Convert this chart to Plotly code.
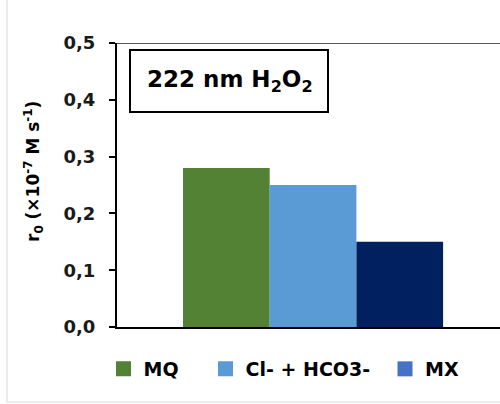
import plotly.graph_objects as go

# Initial rate r0 under 222 nm UV / H2O2 in three water matrices
categories = ["222 nm"]
series_names = ["MQ", "Cl- + HCO3-", "MX"]
series_values = [[0.28], [0.25], [0.15]]
bar_colors = ["#548235", "#5B9BD5", "#002060"]
legend_colors = ["#548235", "#5B9BD5", "#4472C4"]
y_ticks = [0.0, 0.1, 0.2, 0.3, 0.4, 0.5]

W, H = 500, 404
L_M, R_M, T_M, B_M = 117, 0, 43, 77
plot_w = W - L_M - R_M
plot_h = H - T_M - B_M


def px_x(px):
    return (px - L_M) / plot_w


def px_y(py):
    return (H - B_M - py) / plot_h


fig = go.Figure()

for name, vals, col in zip(series_names, series_values, bar_colors):
    fig.add_trace(go.Bar(x=categories, y=vals, name=name, marker=dict(color=col, line=dict(width=0)),
                         showlegend=False))

# one legend per entry so each swatch sits where it belongs in the row
legend_ids = ["legend", "legend2", "legend3"]
legend_left = [103.5, 205.5, 385.0]
for name, col, lid in zip(series_names, legend_colors, legend_ids):
    fig.add_trace(go.Scatter(x=[None], y=[None], mode="markers", name=name, legend=lid,
                             marker=dict(symbol="square", size=15, color=col)))

legend_font = dict(family="DejaVu Sans", size=19, color="#000000", weight="bold")
leg_layout = {}
for lid, lx in zip(legend_ids, legend_left):
    leg_layout[lid] = dict(x=lx / W, y=1 - 369 / H, xref="container", yref="container",
                           xanchor="left", yanchor="middle", orientation="h",
                           font=legend_font, bgcolor="rgba(0,0,0,0)", borderwidth=0)

fig.update_layout(
    width=W, height=H,
    margin=dict(l=L_M, r=R_M, t=T_M, b=B_M, pad=0),
    paper_bgcolor="#ffffff", plot_bgcolor="#ffffff",
    barmode="group", bargap=0.2, bargroupgap=0,
    xaxis=dict(range=[-0.603, 0.575], showticklabels=False, ticks="", showgrid=False,
               zeroline=False, showline=True, linecolor="#000000", linewidth=2),
    yaxis=dict(range=[0, 0.5], tickvals=y_ticks, tickformat=".1f", ticks="outside",
               ticklen=6, tickwidth=2, tickcolor="#000000", showgrid=False, zeroline=False,
               showline=True, linecolor="#000000", linewidth=2, ticklabelstandoff=10,
               tickfont=dict(family="DejaVu Sans", size=18, color="#1a1a1a", weight="bold")),
    separators=",.",
    **leg_layout,
)

shapes = [
    # line along the top of the plot area at 0.5
    dict(type="line", xref="paper", yref="y", x0=0, x1=1, y0=0.5, y1=0.5,
         line=dict(color="#222222", width=1.5)),
    # frame around the chart label
    dict(type="rect", xref="paper", yref="paper", x0=px_x(130), x1=px_x(328),
         y0=px_y(112), y1=px_y(50), line=dict(color="#000000", width=2),
         fillcolor="rgba(0,0,0,0)"),
    # light outer border of the chart
    dict(type="rect", xref="paper", yref="paper", x0=px_x(7), x1=px_x(520),
         y0=px_y(402), y1=px_y(-20), line=dict(color="#d9d9d9", width=1),
         fillcolor="rgba(0,0,0,0)", layer="below"),
]
fig.update_layout(shapes=shapes)

fig.add_annotation(x=px_x(230), y=px_y(81), xref="paper", yref="paper", showarrow=False,
                   text="222 nm H<sub>2</sub>O<sub>2</sub>",
                   font=dict(family="DejaVu Sans", size=23, color="#000000", weight="bold"),
                   xanchor="center", yanchor="middle")

fig.add_annotation(x=px_x(33), y=px_y(172), xref="paper", yref="paper", showarrow=False,
                   text="r<sub>0</sub> (×10<sup>-7</sup> M s<sup>-1</sup>)", textangle=-90,
                   font=dict(family="DejaVu Sans", size=17, color="#000000", weight="bold"),
                   xanchor="center", yanchor="middle")

fig.write_html("out.html")
